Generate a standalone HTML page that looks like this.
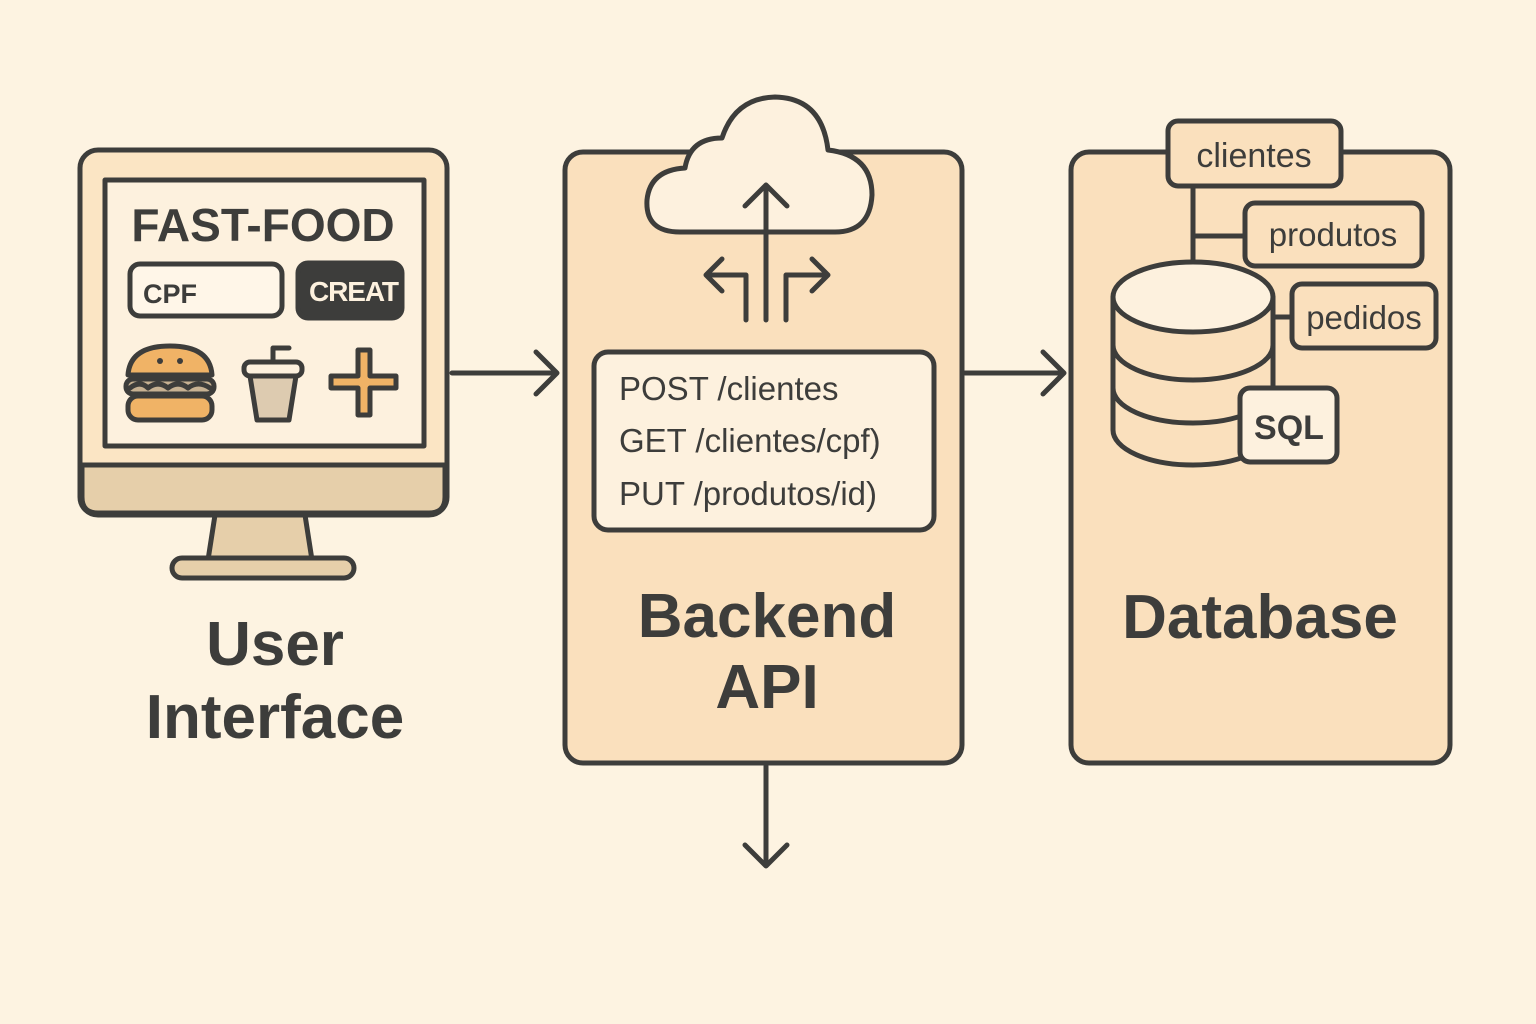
<!DOCTYPE html>
<html><head><meta charset="utf-8"><style>
html,body{margin:0;padding:0;background:#fdf3e1;}
svg{display:block;}
text{font-family:"Liberation Sans","DejaVu Sans",sans-serif;fill:#3d3d3b;}
</style></head><body>
<svg width="1536" height="1024" viewBox="0 0 1536 1024" xmlns="http://www.w3.org/2000/svg">
<rect width="1536" height="1024" fill="#fdf3e1"/>
<g stroke="#3d3d3b" stroke-width="5" stroke-linecap="round" stroke-linejoin="round">
<!-- monitor -->
<path d="M215 515 L305 515 L312 560 L208 560 Z" fill="#e6cfaa"/>
<rect x="172" y="558" width="182" height="20" rx="10" fill="#e6cfaa"/>
<rect x="80" y="150" width="367" height="365" rx="18" fill="#fbe5c4"/>
<path d="M82 465 L445 465 L445 497 Q445 513 429 513 L98 513 Q82 513 82 497 Z" fill="#e6cfaa"/>
<line x1="80" y1="465" x2="447" y2="465"/>
<rect x="105" y="180" width="319" height="266" fill="#fdf1de"/>
<rect x="130" y="264" width="152" height="52" rx="10" fill="#fff6e8"/>
<rect x="298" y="263" width="104" height="55" rx="10" fill="#3d3d3b"/>
<!-- burger -->
<path d="M128 375 Q130 346 170 346 Q210 346 212 375 Z" fill="#f0b366"/>
<rect x="126" y="379" width="88" height="15" rx="7" fill="#c8b293"/>
<path d="M130 388 Q140 380 148 388 Q158 380 168 388 Q178 380 188 388 Q198 380 210 388" fill="none"/>
<rect x="128" y="396" width="84" height="24" rx="10" fill="#f0b366"/>
<!-- cup -->
<rect x="244" y="362" width="58" height="14" rx="6" fill="#fdf1de"/>
<path d="M250 376 L296 376 L289 420 L257 420 Z" fill="#ddcbb0"/>
<path d="M273 362 L273 348 L289 348" fill="none"/>
<!-- plus -->
<path d="M358 350 L370 350 L370 376 L396 376 L396 388 L370 388 L370 415 L358 415 L358 388 L331 388 L331 376 L358 376 Z" fill="#f0b366"/>
<!-- arrows -->
<path d="M452 373 L556 373 M536 352 L557 373 L536 394" fill="none"/>
<path d="M965 373 L1063 373 M1043 352 L1064 373 L1043 394" fill="none"/>
<path d="M766 766 L766 866 M745 845 L766 866 L787 845" fill="none"/>
<!-- backend -->
<rect x="565" y="152" width="397" height="611" rx="18" fill="#fae0bd"/>
<path d="M680 232 Q645 232 647 200 Q650 170 685 168 Q690 138 722 138 Q735 98 775 97 Q822 98 828 150 Q872 155 872 195 Q870 232 835 232 Z" fill="#fdf1de"/>
<path d="M766 320 L766 185 M745 206 L766 185 L787 206" fill="none"/>
<path d="M746 320 L746 275 L706 275 M722 259 L706 275 L722 291" fill="none"/>
<path d="M786 320 L786 275 L828 275 M812 259 L828 275 L812 291" fill="none"/>
<rect x="594" y="352" width="340" height="178" rx="14" fill="#fdf1de"/>
<!-- database -->
<rect x="1071" y="152" width="379" height="611" rx="18" fill="#fae0bd"/>
<line x1="1193" y1="186" x2="1193" y2="265"/>
<line x1="1193" y1="236" x2="1245" y2="236"/>
<line x1="1273" y1="317" x2="1292" y2="317"/>
<line x1="1273" y1="317" x2="1273" y2="388"/>
<path d="M1113 297 L1113 430 A80 35 0 0 0 1273 430 L1273 297" fill="#fae0bd"/>
<path d="M1113 345 A80 35 0 0 0 1273 345 M1113 388 A80 35 0 0 0 1273 388" fill="none"/>
<ellipse cx="1193" cy="297" rx="80" ry="35" fill="#fdf1de"/>
<rect x="1168" y="121" width="173" height="65" rx="10" fill="#fae0bd"/>
<rect x="1245" y="203" width="177" height="63" rx="10" fill="#fae0bd"/>
<rect x="1292" y="284" width="144" height="64" rx="10" fill="#fae0bd"/>
<rect x="1240" y="388" width="97" height="74" rx="10" fill="#fdf1de"/>
</g>
<circle cx="160" cy="361" r="3" fill="#3d3d3b"/><circle cx="180" cy="361" r="3" fill="#3d3d3b"/>
<text x="263" y="241" font-size="46" font-weight="bold" text-anchor="middle">FAST-FOOD</text>
<text x="143" y="303" font-size="27" font-weight="bold">CPF</text>
<text x="309" y="301" font-size="28" font-weight="bold" style="fill:#fdf1de" textLength="90">CREAT</text>
<text x="275" y="665" font-size="62" font-weight="bold" text-anchor="middle">User</text>
<text x="275" y="738" font-size="62" font-weight="bold" text-anchor="middle">Interface</text>
<text x="619" y="400" font-size="33">POST /clientes</text>
<text x="619" y="452" font-size="33">GET /clientes/cpf)</text>
<text x="619" y="505" font-size="33">PUT /produtos/id)</text>
<text x="767" y="637" font-size="62" font-weight="bold" text-anchor="middle">Backend</text>
<text x="767" y="708" font-size="62" font-weight="bold" text-anchor="middle">API</text>
<text x="1260" y="638" font-size="62" font-weight="bold" text-anchor="middle">Database</text>
<text x="1254" y="167" font-size="34" text-anchor="middle">clientes</text>
<text x="1333" y="246" font-size="33" text-anchor="middle">produtos</text>
<text x="1364" y="329" font-size="33" text-anchor="middle">pedidos</text>
<text x="1289" y="439" font-size="34" font-weight="bold" text-anchor="middle">SQL</text>
</svg>
</body></html>
